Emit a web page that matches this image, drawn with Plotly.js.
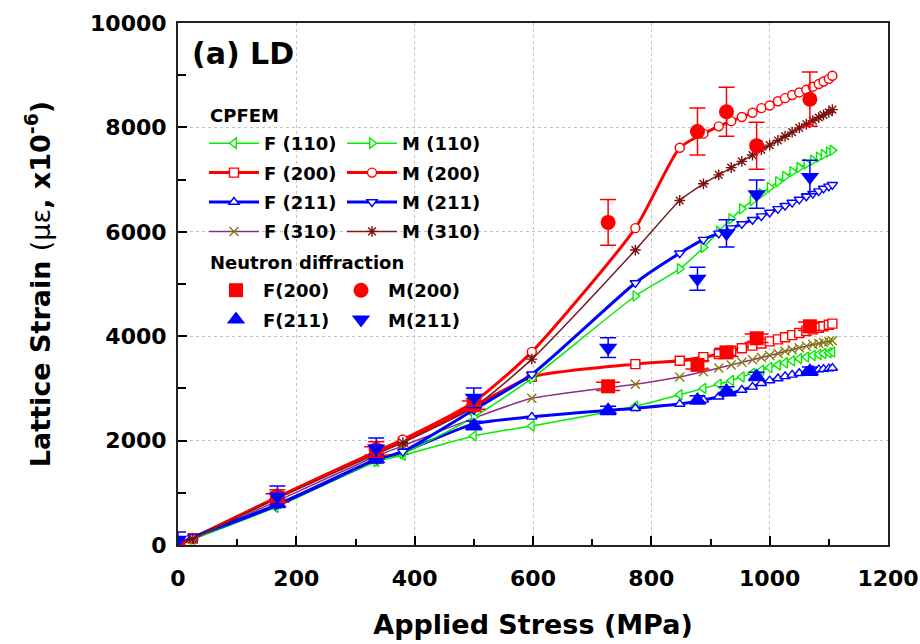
<!DOCTYPE html>
<html>
<head>
<meta charset="utf-8">
<script src="https://cdn.plot.ly/plotly-3.0.1.min.js"></script>
<style>
  html, body { margin: 0; padding: 0; background: #fff; }
  #chart { width: 920px; height: 644px; }
</style>
</head>
<body>
<div id="chart"></div>
<script>
// ---- CPFEM predictions: applied stress (MPa) and lattice strain (x10^-6) ----
const stress = [0, 25, 165, 335, 380, 500, 598, 773, 848, 888, 914, 935, 953, 971, 986, 1000,
                1014, 1026, 1038, 1050, 1062, 1073, 1083, 1091, 1100, 1106];

const fe110 = [0, 110, 720, 1600, 1720, 2090, 2280, 2660, 2880, 3000, 3080, 3150, 3220, 3290, 3350, 3400,
               3450, 3490, 3530, 3570, 3600, 3630, 3650, 3670, 3685, 3695];
const ma110 = [0, 110, 780, 1600, 1750, 2450, 3190, 4770, 5290, 5700, 6010, 6250, 6440, 6600, 6730, 6850,
               6960, 7060, 7150, 7230, 7300, 7370, 7430, 7480, 7530, 7560];
const fe200 = [0, 130, 900, 1780, 1980, 2660, 3220, 3465, 3530, 3600, 3660, 3720, 3770, 3820, 3860, 3900,
               3940, 3980, 4020, 4060, 4100, 4130, 4160, 4190, 4220, 4240];
const ma200 = [0, 130, 900, 1790, 2020, 2740, 3700, 6070, 7610, 7880, 8020, 8120, 8200, 8280, 8370, 8420,
               8500, 8560, 8620, 8670, 8720, 8780, 8830, 8880, 8930, 8990];
const fe211 = [0, 130, 750, 1620, 1780, 2320, 2455, 2620, 2700, 2780, 2840, 2900, 2970, 3030, 3100, 3150,
               3190, 3230, 3260, 3290, 3320, 3340, 3360, 3370, 3380, 3390];
const ma211 = [0, 150, 760, 1640, 1790, 2590, 3270, 5020, 5590, 5850, 5970, 6070, 6150, 6230, 6300, 6370,
               6440, 6500, 6560, 6620, 6680, 6730, 6780, 6830, 6870, 6900];
const fe310 = [0, 110, 830, 1700, 1900, 2430, 2810, 3080, 3220, 3320, 3390, 3450, 3500, 3550, 3590, 3630,
               3670, 3710, 3740, 3780, 3810, 3840, 3860, 3880, 3900, 3915];
const ma310 = [0, 120, 880, 1740, 1960, 2640, 3560, 5650, 6600, 6920, 7090, 7230, 7350, 7470, 7570, 7660,
               7750, 7830, 7910, 7990, 8060, 8130, 8190, 8240, 8290, 8340];

// ---- Neutron diffraction measurements ----
const expStress  = [0, 168, 335, 500, 727, 878, 927, 978, 1068];
const expF200    = [0, 900, 1800, 2680, 3040, 3450, 3690, 3960, 4190];
const expF200Err = [60, 80, 80, 80, 80, 80, 80, 80, 80];
const expM200    = [0, 940, 1830, 2680, 6180, 7920, 8300, 7650, 8540];
const expM200Err = [80, 120, 150, 120, 440, 450, 470, 450, 520];
const expF211    = [0, 800, 1650, 2290, 2580, 2780, 2950, 3230, 3330];
const expF211Err = [60, 80, 80, 80, 80, 80, 80, 80, 80];
const expM211    = [100, 930, 1850, 2820, 3780, 5100, 5970, 6720, 7050];
const expM211Err = [150, 200, 200, 190, 190, 220, 260, 270, 320];

const FONT = 'DejaVu Sans, Arial, sans-serif';
const RED = '#ff0000', BLUE = '#0000ff', GREEN = '#00ee00';

function cpfem(name, y, color, symbol, width, legend, mk) {
  const open = symbol.endsWith('-open');
  return {
    type: 'scatter', mode: 'lines+markers', name: name, legend: legend, legendgroup: name,
    x: stress, y: y,
    line: { color: color, width: width, shape: 'spline', smoothing: 0.6 },
    marker: open
      ? { symbol: symbol, size: 9, color: mk || color, line: { color: mk || color, width: 1.4 } }
      : { symbol: symbol, size: 9, color: '#ffffff', line: { color: mk || color, width: 1.4 } }
  };
}

function neutron(name, y, err, color, symbol, size, legend, capW) {
  return {
    type: 'scatter', mode: 'markers', name: name, legend: legend, legendgroup: name,
    x: expStress, y: y,
    marker: { symbol: symbol, size: size, color: color },
    error_y: { type: 'data', array: err, visible: true, color: color, thickness: 1.5, width: capW }
  };
}

const traces = [
  cpfem('F (110)', fe110, GREEN, 'triangle-left', 1.5, 'legend'),
  cpfem('F (200)', fe200, RED, 'square', 3, 'legend'),
  cpfem('F (211)', fe211, BLUE, 'triangle-up', 3, 'legend'),
  cpfem('F (310)', fe310, '#8e2c8e', 'x-thin-open', 1.5, 'legend', '#808000'),
  cpfem('M (110)', ma110, GREEN, 'triangle-right', 1.5, 'legend2'),
  cpfem('M (200)', ma200, RED, 'circle', 3, 'legend2'),
  cpfem('M (211)', ma211, BLUE, 'triangle-down', 3, 'legend2'),
  cpfem('M (310)', ma310, '#7a1c1c', 'asterisk-open', 1.5, 'legend2', '#7a1010'),
  neutron('F(200)', expF200, expF200Err, RED, 'square', 14, 'legend3', 12),
  neutron('F(211)', expF211, expF211Err, BLUE, 'triangle-up', 16, 'legend3', 8),
  neutron('M(200)', expM200, expM200Err, RED, 'circle', 15, 'legend4', 8),
  neutron('M(211)', expM211, expM211Err, BLUE, 'triangle-down', 16, 'legend4', 8)
];

// plot area in pixels: left 178, top 23, width 710, height 522
const L = 178, T = 23, W = 710, H = 522;
const px = v => (v - L) / W;
const py = v => (T + H - v) / H;

function legendAt(x, y, iw) {
  return {
    x: px(x), y: py(y), xanchor: 'left', yanchor: 'top',
    bgcolor: 'rgba(0,0,0,0)', borderwidth: 0,
    font: { family: FONT, size: 18, weight: 'bold', color: '#000' },
    itemwidth: iw, tracegroupgap: 3
  };
}

const axisCommon = {
  showline: true, linewidth: 2, linecolor: '#222', mirror: true,
  ticks: 'inside', ticklen: 9, tickwidth: 2, tickcolor: '#000',
  showgrid: true, gridcolor: '#c4c4c4', griddash: 'dot', gridwidth: 1,
  zeroline: false, automargin: false,
  tickformat: 'd', exponentformat: 'none', ticklabeloverflow: 'allow',
  tickfont: { family: FONT, size: 22, weight: 'bold', color: '#000' }
};

const layout = {
  width: 920, height: 644,
  margin: { l: L, r: 920 - L - W, t: T, b: 644 - T - H },
  paper_bgcolor: '#ffffff', plot_bgcolor: '#ffffff',
  showlegend: true,
  xaxis: Object.assign({}, axisCommon, {
    range: [0, 1200], tick0: 0, dtick: 200, ticklabelstandoff: 13,
    minor: { dtick: 100, ticks: 'inside', ticklen: 6, tickwidth: 2, tickcolor: '#000', showgrid: false },
    title: { text: 'Applied Stress (MPa)', standoff: 25,
             font: { family: FONT, size: 27, weight: 'bold', color: '#000' } }
  }),
  yaxis: Object.assign({}, axisCommon, {
    range: [0, 10000], tick0: 0, dtick: 2000, ticklabelstandoff: 5,
    minor: { dtick: 1000, ticks: 'inside', ticklen: 8, tickwidth: 2, tickcolor: '#000', showgrid: false },
    title: { text: "Lattice Strain <span style='font-weight:normal'>(με</span>, x10<sup>-6</sup>)", standoff: 32,
             font: { family: FONT, size: 27, weight: 'bold', color: '#000' } }
  }),
  legend:  legendAt(204, 125, 50),
  legend2: legendAt(342, 125, 50),
  legend3: legendAt(209, 272, 44),
  legend4: legendAt(334, 272, 44),
  annotations: [
    { text: '(a) LD', xref: 'paper', yref: 'paper', x: px(190), y: py(53), xanchor: 'left', yanchor: 'middle',
      showarrow: false, font: { family: FONT, size: 30, weight: 'bold', color: '#000' } },
    { text: 'CPFEM', xref: 'paper', yref: 'paper', x: px(208), y: py(115), xanchor: 'left', yanchor: 'middle',
      showarrow: false, font: { family: FONT, size: 18, weight: 'bold', color: '#000' } },
    { text: 'Neutron diffraction', xref: 'paper', yref: 'paper', x: px(208), y: py(262), xanchor: 'left', yanchor: 'middle',
      showarrow: false, font: { family: FONT, size: 18, weight: 'bold', color: '#000' } }
  ]
};

Plotly.newPlot('chart', traces, layout, { staticPlot: true, displayModeBar: false });
</script>
</body>
</html>
